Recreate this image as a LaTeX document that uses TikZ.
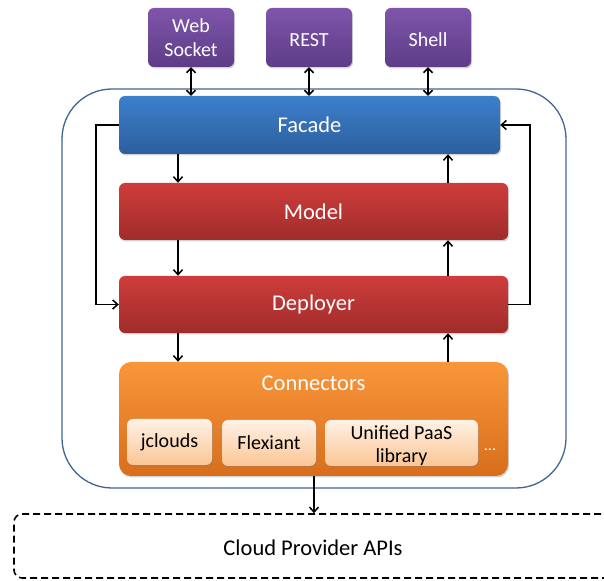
\documentclass[tikz,border=0pt]{standalone}
\usepackage{fontspec}
\setmainfont{Carlito}
\usetikzlibrary{arrows.meta,shadows}
\definecolor{purpT}{HTML}{7E55AB}
\definecolor{purpB}{HTML}{5E3C86}
\definecolor{blueT}{HTML}{3D7FCB}
\definecolor{blueB}{HTML}{2C5F9E}
\definecolor{redT}{HTML}{CE3D3B}
\definecolor{redB}{HTML}{A02C2B}
\definecolor{orT}{HTML}{F9963A}
\definecolor{orB}{HTML}{D86E1C}
\definecolor{peachT}{HTML}{FFF2E6}
\definecolor{peachB}{HTML}{FBC595}
\definecolor{outerc}{HTML}{3F6592}
\tikzset{
  box/.style={rounded corners=6pt, inner sep=0pt, text=white, font=\fontsize{22.5}{24}\selectfont,
    drop shadow={shadow xshift=1pt, shadow yshift=-1.5pt, opacity=0.35}},
  purpbox/.style={box, top color=purpT, bottom color=purpB, minimum width=86pt, minimum height=59pt, align=center, font=\fontsize{20}{24}\selectfont},
  bluebox/.style={box, top color=blueT, bottom color=blueB},
  redbox/.style={box, top color=redT, bottom color=redB},
  orbox/.style={box, rounded corners=12pt, top color=orT, bottom color=orB},
  subbox/.style={box, top color=peachT, bottom color=peachB, text=black, align=center, font=\fontsize{20}{23}\selectfont, minimum height=46pt},
  arr/.style={line width=1.5pt, -{Straight Barb[length=5pt,width=9pt,line width=1.5pt]}},
  darr/.style={line width=1.5pt, {Straight Barb[length=4.5pt,width=9pt,line width=1.5pt]}-{Straight Barb[length=4.5pt,width=9pt,line width=1.5pt]}},
}
\begin{document}
\begin{tikzpicture}[x=1pt,y=1pt]
\useasboundingbox (0,0) rectangle (604,580);
\clip (0,0) rectangle (604,580);
% outer container
\draw[outerc, line width=1.3pt, rounded corners=50pt] (62,92) rectangle (566,491);
% cloud provider
\node[draw, line width=1.6pt, dash pattern=on 7pt off 4pt, rounded corners=8pt, minimum width=606pt, minimum height=64pt, inner sep=0pt] (cloud) at (317,34) {};
\node[font=\fontsize{22.5}{24}\selectfont] (cloudt) at (313,32) {Cloud Provider APIs};
% top boxes
\node[purpbox] (web) at (191,542.5) {Web\\Socket};
\node[purpbox, text height=19pt, text depth=0pt] (rest) at (309,542.5) {REST};
\node[purpbox, text height=19pt, text depth=0pt] (shell) at (428,542.5) {Shell};
% layers
\node[bluebox, minimum width=381pt, minimum height=58pt] (facade) at (309.5,455) {Facade};
\node[redbox, minimum width=389pt, minimum height=57pt] (model) at (313.5,368.5) {Model};
\node[redbox, minimum width=389pt, minimum height=57pt] (deployer) at (313.5,275.5) {Deployer};
\node[orbox, minimum width=389pt, minimum height=114pt] (conn) at (313.5,161) {};
\node[text=white, font=\fontsize{22.5}{24}\selectfont] (connt) at (313.5,197) {Connectors};
\node[subbox, minimum width=85pt] (jc) at (169.5,138) {jclouds};
\node[subbox, minimum width=94pt] (fx) at (269,137) {Flexiant};
\node[subbox, minimum width=153pt] (up) at (401.5,137) {};
\node[text=black, align=center, font=\fontsize{20}{23}\selectfont] (upt) at (401.5,134) {Unified PaaS\\library};
\node[text=white, font=\fontsize{16}{16}\selectfont] (dots) at (490,130) {...};
% coordinates
\coordinate (lx) at (178,0);
\coordinate (rx) at (448,0);
\coordinate (lloop) at (96,0);
\coordinate (rloop) at (530,0);
% top double arrows
\draw[darr] (web.south) -- (web.south |- facade.north);
\draw[darr] (rest.south) -- (rest.south |- facade.north);
\draw[darr] (shell.south) -- (shell.south |- facade.north);
% down arrows
\draw[arr] (facade.south -| lx) -- (model.north -| lx);
\draw[arr] (model.south -| lx) -- (deployer.north -| lx);
\draw[arr] (deployer.south -| lx) -- (conn.north -| lx);
% up arrows
\draw[arr] (conn.north -| rx) -- (deployer.south -| rx);
\draw[arr] (deployer.north -| rx) -- (model.south -| rx);
\draw[arr] (model.north -| rx) -- (facade.south -| rx);
% loops
\draw[arr] (facade.west) -- (facade.west -| lloop) -- (deployer.west -| lloop) -- (deployer.west);
\draw[arr] (deployer.east) -- (deployer.east -| rloop) -- (facade.east -| rloop) -- (facade.east);
% to cloud
\coordinate (cx) at (314,0);
\draw[arr] (conn.south -| cx) -- (cloud.north -| cx);
\end{tikzpicture}
\end{document}
